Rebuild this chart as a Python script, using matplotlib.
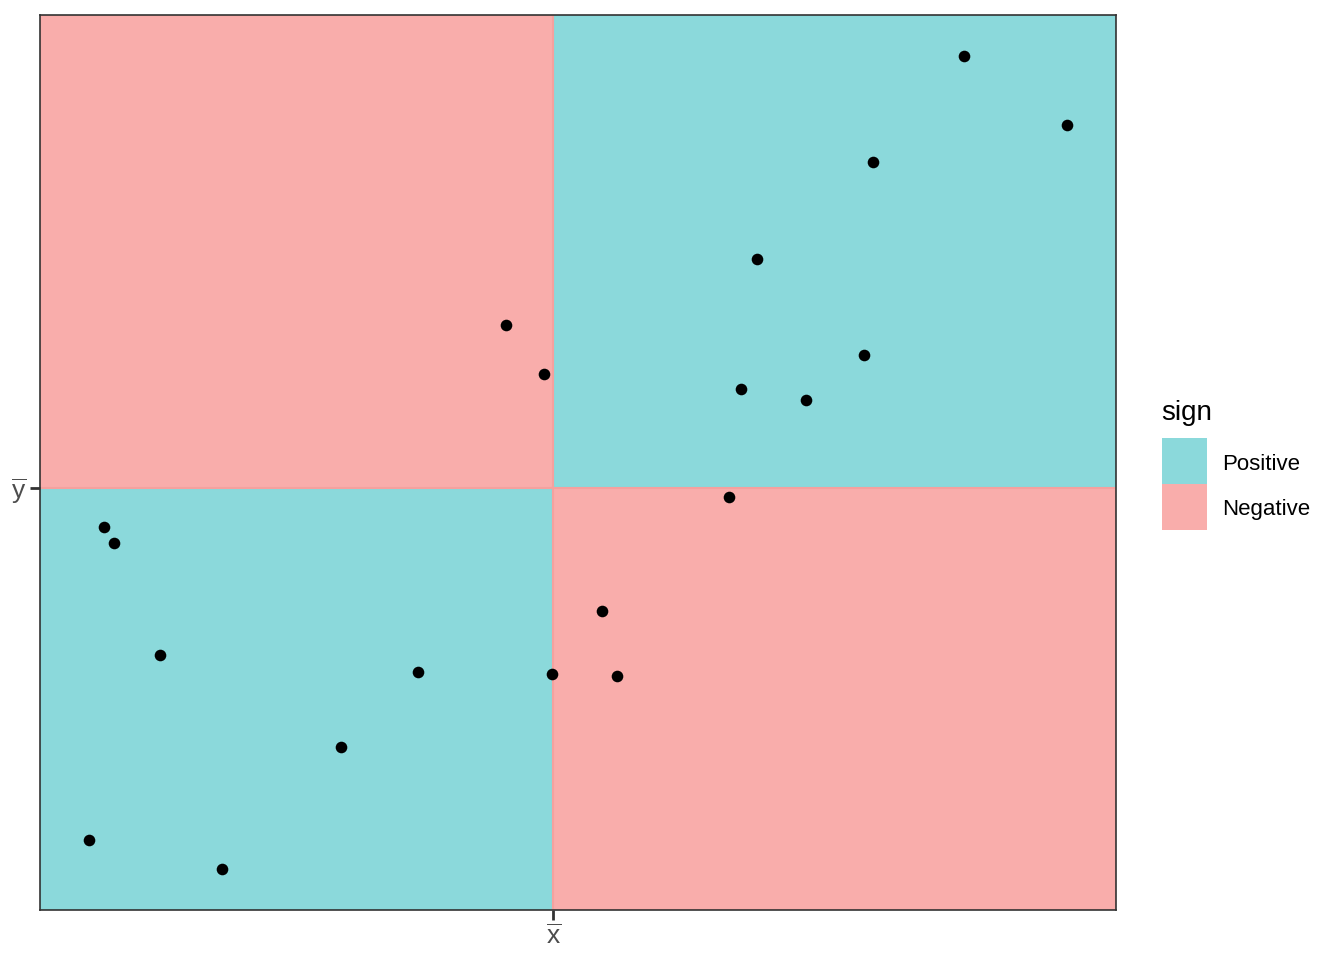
#!/usr/bin/env python3

import numpy as np
import matplotlib.pyplot as plt
from matplotlib.patches import Rectangle

plt.rcParams["font.family"] = ["Liberation Sans", "DejaVu Sans"]

# points
x = np.array([9.65, 10.68, 8.74, 7.57, 5.06, 5.44, 8.65, 7.41, 8.06, 7.29,
              1.03, 1.13, 6.02, 1.59, 4.18, 5.52, 6.17, 3.41, 0.88, 2.21])
y = np.array([9.05, 8.35, 7.98, 7.01, 6.35, 5.86, 6.05, 5.71, 5.60, 4.62,
              4.32, 4.16, 3.48, 3.04, 2.87, 2.85, 2.83, 2.12, 1.18, 0.89])

signs = ["Positive", "Negative"]
fills = {"Positive": "#8BD9DB", "Negative": "#F9ADAB"}
edges = {"Positive": "#7CD2D4", "Negative": "#F5A19E"}


def expand(v, frac=0.05):
    span = v.max() - v.min()
    return v.min() - frac * span, v.max() + frac * span


def main():
    fig = plt.figure(figsize=(13.44, 9.6), dpi=100)
    ax = fig.add_axes([40 / 1344, 50 / 960, 1076 / 1344, 895 / 960])

    x_bar, y_bar = x.mean(), y.mean()
    x0, x1 = expand(x)
    y0, y1 = expand(y)

    quads = [
        (x0, y0, x_bar, y_bar, "Positive"),
        (x_bar, y_bar, x1, y1, "Positive"),
        (x0, y_bar, x_bar, y1, "Negative"),
        (x_bar, y0, x1, y_bar, "Negative"),
    ]
    for qx0, qy0, qx1, qy1, s in quads:
        ax.add_patch(Rectangle((qx0, qy0), qx1 - qx0, qy1 - qy0,
                               facecolor=fills[s], edgecolor=edges[s],
                               linewidth=1.5, zorder=1))

    ax.scatter(x, y, s=70, color="black", zorder=3, linewidths=0)

    ax.set_xlim(x0, x1)
    ax.set_ylim(y0, y1)
    ax.set_xticks([x_bar])
    ax.set_xticklabels([r"$\mathregular{\overline{x}}$"])
    ax.set_yticks([y_bar])
    ax.set_yticklabels([r"$\mathregular{\overline{y}}$"])
    ax.tick_params(length=7, width=2, color="#333333", labelcolor="#4D4D4D",
                   labelsize=19, pad=3)
    for sp in ax.spines.values():
        sp.set_color("#333333")
        sp.set_linewidth(1.2)
        sp.set_zorder(4)

    # legend drawn by hand
    W, H = 1344, 960
    fig.text(1161 / W, 1 - 413 / H, "sign", fontsize=20, va="center", ha="left")
    for i, s in enumerate(signs):
        top = 438 + i * 46
        fig.add_artist(Rectangle((1162 / W, 1 - (top + 46) / H), 45 / W, 46 / H,
                                 facecolor=fills[s], edgecolor="none",
                                 transform=fig.transFigure))
        fig.text(1222 / W, 1 - (top + 26) / H, s, fontsize=16,
                 va="center", ha="left")

    fig.savefig("out.png", dpi=100)


if __name__ == '__main__':
    main()
